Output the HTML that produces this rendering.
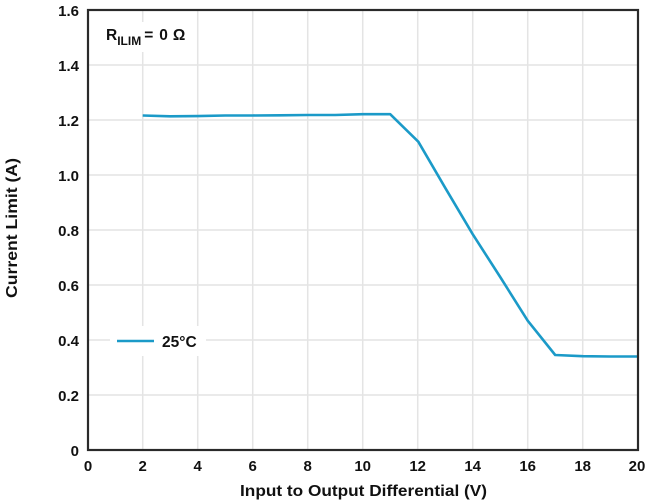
<!DOCTYPE html>
<html><head><meta charset="utf-8"><style>
html,body{margin:0;padding:0;background:#fff;}
svg{display:block;}
text{font-family:"Liberation Sans",Arial,sans-serif;font-weight:bold;fill:#111;}
</style></head><body>
<svg width="653" height="502" viewBox="0 0 653 502" xmlns="http://www.w3.org/2000/svg">
<rect width="653" height="502" fill="#fff"/>
<g stroke="#e4e4e4" stroke-width="1.5">
<line x1="142.7" y1="10" x2="142.7" y2="450"/>
<line x1="197.7" y1="10" x2="197.7" y2="450"/>
<line x1="252.7" y1="10" x2="252.7" y2="450"/>
<line x1="307.7" y1="10" x2="307.7" y2="450"/>
<line x1="362.7" y1="10" x2="362.7" y2="450"/>
<line x1="417.7" y1="10" x2="417.7" y2="450"/>
<line x1="472.7" y1="10" x2="472.7" y2="450"/>
<line x1="527.7" y1="10" x2="527.7" y2="450"/>
<line x1="582.7" y1="10" x2="582.7" y2="450"/>
<line x1="88" y1="65" x2="638" y2="65"/>
<line x1="88" y1="120" x2="638" y2="120"/>
<line x1="88" y1="175" x2="638" y2="175"/>
<line x1="88" y1="230" x2="638" y2="230"/>
<line x1="88" y1="285" x2="638" y2="285"/>
<line x1="88" y1="340" x2="638" y2="340"/>
<line x1="88" y1="395" x2="638" y2="395"/>
</g>
<rect x="110" y="326" width="96" height="30" fill="#fff"/>
<rect x="100" y="22" width="95" height="30" fill="#fff"/>
<polyline fill="none" stroke="#1b9ac8" stroke-width="2.6" stroke-linejoin="round"
points="142.7,115.5 170.2,116.3 197.7,116.1 225.2,115.5 252.7,115.5 280.2,115.3 307.7,115.0 335.2,115.0 362.7,114.2 390.2,114.2 418.3,141.7 445.2,187.8 472.7,234.2 500.2,277 527.7,320.7 555.2,355 582.7,356.2 610.2,356.5 637.7,356.5"/>
<rect x="88" y="10" width="550" height="440" fill="none" stroke="#2a2a2a" stroke-width="2.2"/>
<g font-size="15" text-anchor="end">
<text x="79" y="16">1.6</text>
<text x="79" y="71">1.4</text>
<text x="79" y="126">1.2</text>
<text x="79" y="181">1.0</text>
<text x="79" y="236">0.8</text>
<text x="79" y="291">0.6</text>
<text x="79" y="346">0.4</text>
<text x="79" y="401">0.2</text>
<text x="79" y="456">0</text>
</g>
<g font-size="15" text-anchor="middle">
<text x="88" y="471">0</text>
<text x="142.7" y="471">2</text>
<text x="197.7" y="471">4</text>
<text x="252.7" y="471">6</text>
<text x="307.7" y="471">8</text>
<text x="362.7" y="471">10</text>
<text x="417.7" y="471">12</text>
<text x="472.7" y="471">14</text>
<text x="527.7" y="471">16</text>
<text x="582.7" y="471">18</text>
<text x="637" y="471">20</text>
</g>
<text x="240" y="496" font-size="15.5" textLength="247" lengthAdjust="spacingAndGlyphs">Input to Output Differential (V)</text>
<text transform="translate(17,298) rotate(-90)" font-size="15.5" textLength="140" lengthAdjust="spacingAndGlyphs">Current Limit (A)</text>
<text x="106" y="40" font-size="15.5">R<tspan font-size="12" dy="5">ILIM</tspan><tspan dy="-5" dx="3">=</tspan><tspan dx="6">0</tspan><tspan dx="5">Ω</tspan></text>
<line x1="117" y1="341" x2="154" y2="341" stroke="#1b9ac8" stroke-width="2.6"/>
<text x="162" y="347" font-size="15.5">25°C</text>
</svg>
</body></html>
